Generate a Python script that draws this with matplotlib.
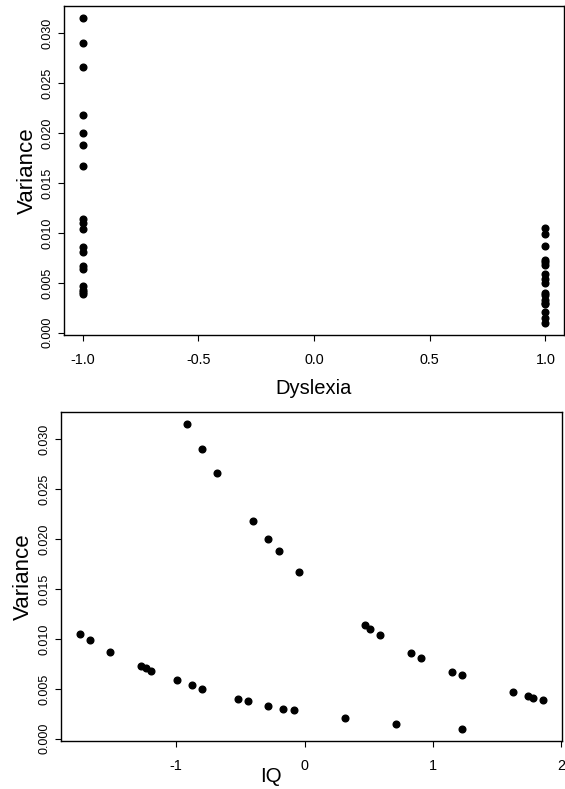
import numpy as np
import matplotlib
matplotlib.use("Agg")
import matplotlib.pyplot as plt
from matplotlib.ticker import FixedLocator, FormatStrFormatter

plt.rcParams["font.family"] = ["Liberation Sans", "DejaVu Sans"]

# upper group (dyslexia = -1) followed by lower group (dyslexia = 1)
iq = [-0.918, -0.798, -0.679, -0.402, -0.285, -0.202, -0.047,
      0.470, 0.511, 0.589, 0.828, 0.908, 1.147, 1.225, 1.622, 1.741, 1.782, 1.860,
      -1.753, -1.673, -1.512, -1.276, -1.234, -1.193, -0.996, -0.879, -0.798,
      -0.521, -0.444, -0.285, -0.166, -0.086, 0.314, 0.708, 1.225]
variance = [0.03156, 0.02903, 0.02666, 0.02183, 0.02003, 0.01886, 0.01676,
            0.01136, 0.01100, 0.01036, 0.00863, 0.00813, 0.00673, 0.00636,
            0.00466, 0.00426, 0.00410, 0.00386,
            0.01050, 0.00990, 0.00873, 0.00726, 0.00706, 0.00683, 0.00586,
            0.00536, 0.00503, 0.00403, 0.00380, 0.00333, 0.00303, 0.00286,
            0.00206, 0.00153, 0.00100]
dyslexia = [-1] * 18 + [1] * 17

var_ticks = [0.000, 0.005, 0.010, 0.015, 0.020, 0.025, 0.030]
dys_ticks = [-1.0, -0.5, 0.0, 0.5, 1.0]
iq_ticks = [-1, 0, 1, 2]


def r_lim(vals):
    lo, hi = min(vals), max(vals)
    r = hi - lo
    return lo - 0.04 * r, hi + 0.04 * r


def style_axes(ax):
    for sp in ax.spines.values():
        sp.set_linewidth(1.0)
    ax.tick_params(axis="both", direction="out", length=4.5, width=0.8)
    ax.tick_params(axis="x", labelsize=10.4, pad=8.5)
    ax.tick_params(axis="y", labelsize=9, pad=3.2, labelrotation=90)
    for lab in ax.get_yticklabels():
        lab.set_va("center")
    ax.yaxis.set_major_locator(FixedLocator(var_ticks))
    ax.yaxis.set_major_formatter(FormatStrFormatter("%.3f"))
    ax.set_ylim(*r_lim(variance))


fig = plt.figure(figsize=(5.65, 7.89), dpi=100)

# top: variance vs dyslexia
ax1 = fig.add_axes([64 / 565, 1 - 335 / 789, 500 / 565, 329.3 / 789])
ax1.plot(dyslexia, variance, "o", color="black", markersize=4.8)
ax1.set_xlim(-1.08, 1.08)
ax1.xaxis.set_major_locator(FixedLocator(dys_ticks))
ax1.xaxis.set_major_formatter(FormatStrFormatter("%.1f"))
style_axes(ax1)
ax1.set_xlabel("Dyslexia", fontsize=14.5, va="center")
ax1.xaxis.set_label_coords(0.5, -0.162)
ax1.set_ylabel("Variance", fontsize=16, va="center")
ax1.yaxis.set_label_coords(-0.074, 0.5)

# bottom: variance vs IQ
ax2 = fig.add_axes([61 / 565, 1 - 741 / 789, 501 / 565, 329.3 / 789])
ax2.plot(iq, variance, "o", color="black", markersize=4.8)
ax2.set_xlim(*r_lim(iq))
ax2.xaxis.set_major_locator(FixedLocator(iq_ticks))
ax2.xaxis.set_major_formatter(FormatStrFormatter("%d"))
style_axes(ax2)
ax2.set_xlabel("IQ", fontsize=14.8, va="center")
ax2.xaxis.set_label_coords(0.419, -0.107)
ax2.set_ylabel("Variance", fontsize=16, va="center")
ax2.yaxis.set_label_coords(-0.076, 0.5)

fig.savefig("out.png", dpi=100)
